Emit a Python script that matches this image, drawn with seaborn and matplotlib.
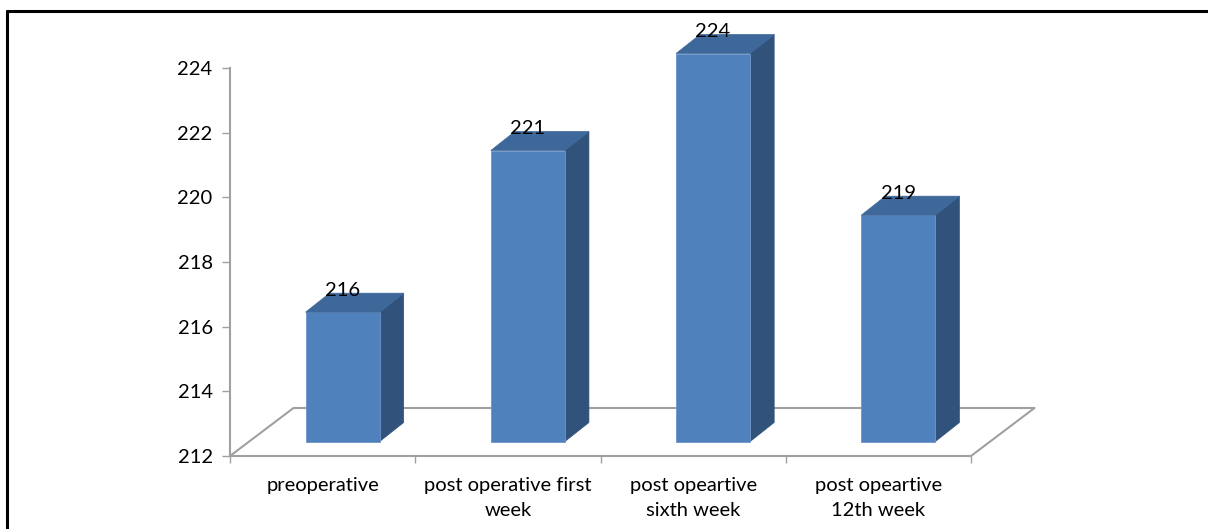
import matplotlib
matplotlib.use("Agg")
import matplotlib.pyplot as plt
import matplotlib.transforms as mtransforms
from matplotlib.patches import Polygon
from matplotlib.lines import Line2D
from matplotlib.ticker import FixedLocator
import pandas as pd
import seaborn as sns

# Mean values per follow-up stage
stages = ["preoperative", "post operative first\nweek",
          "post opeartive\nsixth week", "post opeartive\n12th week"]
values = [216, 221, 224, 219]
y_ticks = [212, 214, 216, 218, 220, 222, 224]

FRONT = "#4f81bd"
TOP = "#3d6899"
SIDE = "#31527b"
GRID_GRAY = "#a0a0a0"
FS = 14.5

sns.set_style("white")
plt.rcParams["font.family"] = ["Lato", "DejaVu Sans"]

DPI = 100
W, H = 1208, 529
fig = plt.figure(figsize=(W / DPI, H / DPI), dpi=DPI)
ax = fig.add_axes([230 / W, 1 - 456 / H, (971 - 230) / W, (456 - 68) / H])

df = pd.DataFrame({"stage": stages, "value": values})
sns.barplot(data=df, x="stage", y="value", color=FRONT, saturation=1,
            width=0.4, ax=ax, zorder=3)

base = y_ticks[0]
ax.set_xlim(-0.5, len(stages) - 0.5)
ax.set_ylim(base, y_ticks[-1])


def shifted(dx_px, dy_px):
    """Data transform moved by a pixel offset (depth of the 3-D scene)."""
    return ax.transData + mtransforms.ScaledTranslation(
        dx_px / DPI, dy_px / DPI, fig.dpi_scale_trans)


# pixels per data unit
o = ax.transData.transform((0, base))
ppx = ax.transData.transform((1, base))[0] - o[0]
ppy = ax.transData.transform((0, base + 1))[1] - o[1]

# floor of the 3-D box
floor_dx, floor_dy = 63.5 / ppx, 48 / ppy
x_lo, x_hi = ax.get_xlim()
ax.plot([x_lo, x_lo + floor_dx, x_hi + floor_dx, x_hi],
        [base, base + floor_dy, base + floor_dy, base],
        color=GRID_GRAY, lw=1.5, clip_on=False, zorder=1)

# columns sit a little back inside the box
bar_off = (20, 14.5)
bar_tr = shifted(*bar_off)
depth_dx, depth_dy = 24 / ppx, 19 / ppy
for p, v in zip(ax.patches, values):
    x0 = p.get_x()
    x1 = x0 + p.get_width()
    p.set_y(base)
    p.set_height(v - base)
    p.set_transform(bar_tr)
    p.set_clip_on(False)
    p.set_edgecolor("#6d95c8")
    p.set_linewidth(0.6)
    side = Polygon([(x1, base), (x1, v), (x1 + depth_dx, v + depth_dy),
                    (x1 + depth_dx, base + depth_dy)],
                   closed=True, facecolor=SIDE, edgecolor=SIDE, lw=0.5,
                   transform=bar_tr, clip_on=False, zorder=2.9)
    top = Polygon([(x0, v), (x1, v), (x1 + depth_dx, v + depth_dy),
                   (x0 + depth_dx, v + depth_dy)],
                  closed=True, facecolor=TOP, edgecolor=TOP, lw=0.5,
                  transform=bar_tr, clip_on=False, zorder=3.1)
    ax.add_patch(side)
    ax.add_patch(top)
    ax.text((x0 + x1) / 2, v, f"{v}", transform=shifted(bar_off[0], bar_off[1] + 22),
            ha="center", va="center", fontsize=FS, color="black",
            clip_on=False, zorder=4)

# axes styling
for s in ("top", "right"):
    ax.spines[s].set_visible(False)
for s in ("left", "bottom"):
    ax.spines[s].set_color(GRID_GRAY)
    ax.spines[s].set_linewidth(1.5)

ax.set_yticks(y_ticks)
ax.set_yticklabels([str(t) for t in y_ticks])
ax.tick_params(axis="y", length=5.5, width=1, color=GRID_GRAY, direction="out",
               pad=7, labelsize=FS, labelcolor="black", left=True)
ax.set_xticks(range(len(stages)))
ax.set_xticklabels(stages, linespacing=1.58)
ax.xaxis.set_minor_locator(FixedLocator([i - 0.5 for i in range(len(stages) + 1)]))
ax.tick_params(axis="x", which="major", length=0, pad=15, labelsize=FS,
               labelcolor="black")
ax.tick_params(axis="x", which="minor", length=5, width=1, color=GRID_GRAY,
               direction="out", bottom=True)
ax.set_xlabel("")
ax.set_ylabel("")

# outer frame
fig.add_artist(Line2D([7 / W, 7 / W], [0, 1 - 11 / H], transform=fig.transFigure,
                      color="black", lw=2.2))
fig.add_artist(Line2D([7 / W, 1], [1 - 11 / H, 1 - 11 / H], transform=fig.transFigure,
                      color="black", lw=2.2))

fig.savefig("out.png", dpi=DPI, facecolor="white")
